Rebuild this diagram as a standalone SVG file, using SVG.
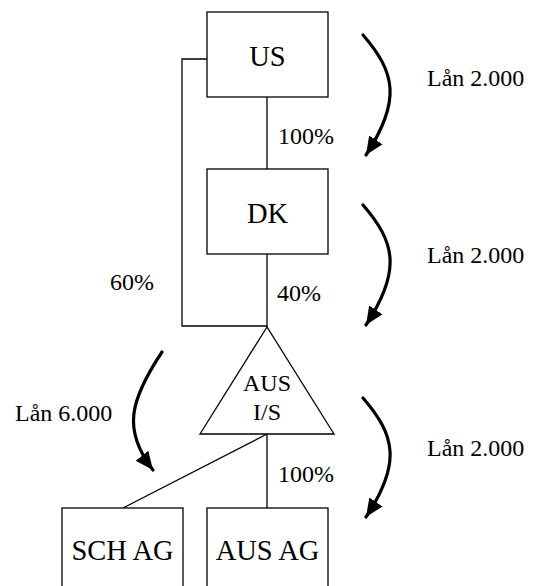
<svg xmlns="http://www.w3.org/2000/svg" width="533" height="586" viewBox="0 0 533 586">
<style>
.box{fill:#fff;stroke:#000;stroke-width:1.3}
.ln{fill:none;stroke:#000;stroke-width:1.3}
.arr{fill:none;stroke:#000;stroke-width:3.2;stroke-linecap:round}
text{font-family:'Liberation Serif','Times New Roman','DejaVu Serif',serif;fill:#000}
.big{font-size:28.5px;text-anchor:middle}
.mid{font-size:24px;text-anchor:middle}
.lbl{font-size:24px}
</style>
<defs>
<marker id="head" markerUnits="userSpaceOnUse" markerWidth="20" markerHeight="20" viewBox="0 0 20 20" refX="18" refY="10" orient="auto">
<path d="M0,2 L18,10 L0,18 Z" fill="#000"/>
</marker>
</defs>
<rect width="533" height="586" fill="#fff"/>
<g id="connectors">
<polyline class="ln" points="207,59 182,59 182,326 267,326"/>
<line class="ln" x1="267" y1="97" x2="267" y2="169"/>
<line class="ln" x1="267" y1="254" x2="267" y2="327"/>
<line class="ln" x1="267" y1="434" x2="267" y2="508"/>
<line class="ln" x1="267" y1="434" x2="123" y2="508"/>
</g>
<g id="arrows">
<path class="arr" d="M363,35 C395,72 402,100 366,155" marker-end="url(#head)"/>
<path class="arr" d="M363,205 C395,242 402,270 366,325" marker-end="url(#head)"/>
<path class="arr" d="M363,398 C395,435 402,463 366,517" marker-end="url(#head)"/>
<path class="arr" d="M162,352 C130,400 122,430 153,470" marker-end="url(#head)"/>
</g>
<g id="US"><rect class="box" x="207" y="12" width="121" height="85"/><text class="big" x="267.5" y="66" font-family="Liberation Serif">US</text></g>
<g id="DK"><rect class="box" x="207" y="169" width="121" height="85"/><text class="big" x="267.5" y="223">DK</text></g>
<g id="AUS_IS"><polygon class="box" points="267,327 200,434 334,434"/><text class="mid" x="267" y="391">AUS</text><text class="mid" x="267" y="420">I/S</text></g>
<g id="SCH_AG"><rect class="box" x="62" y="508" width="121" height="90"/><text class="big" x="122.5" y="560">SCH AG</text></g>
<g id="AUS_AG"><rect class="box" x="207" y="508" width="121" height="90"/><text class="big" x="267.5" y="560">AUS AG</text></g>
<g id="labels">
<text class="lbl" x="278" y="144">100%</text>
<text class="lbl" x="277" y="301">40%</text>
<text class="lbl" x="110" y="290">60%</text>
<text class="lbl" x="278" y="482">100%</text>
<text class="lbl" x="427" y="86">Lån 2.000</text>
<text class="lbl" x="427" y="263">Lån 2.000</text>
<text class="lbl" x="427" y="456">Lån 2.000</text>
<text class="lbl" x="15" y="421">Lån 6.000</text>
</g>
</svg>
